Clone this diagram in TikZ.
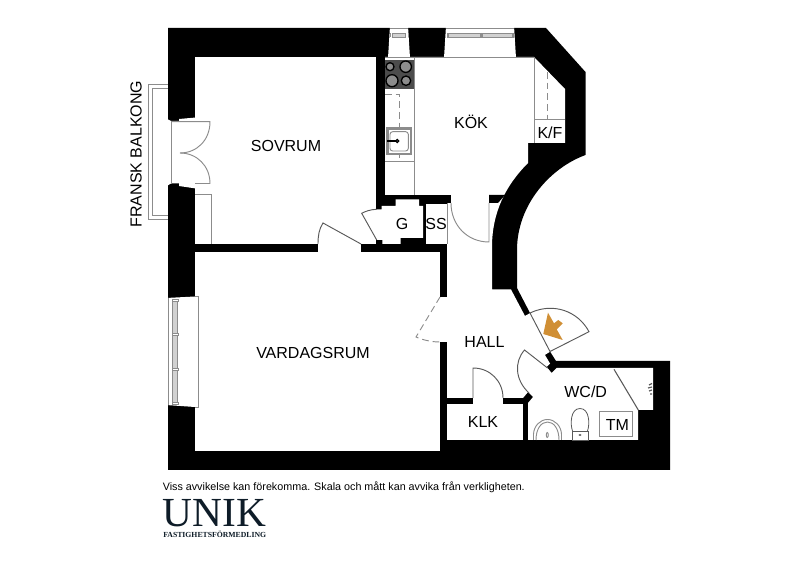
\documentclass[tikz,border=0pt]{standalone}
\usepackage{fontspec}
\setmainfont{Liberation Sans}
\newfontfamily\serifx{Liberation Serif}
\definecolor{ln}{gray}{0.55}
\definecolor{lndark}{gray}{0.35}
\definecolor{bar}{gray}{0.82}
\definecolor{stove}{gray}{0.3}
\definecolor{hob}{gray}{0.55}
\definecolor{arrowor}{HTML}{D08F35}
\definecolor{navy}{HTML}{0E1C28}
\tikzset{
  wall/.style={fill=black,draw=none},
  room/.style={fill=white,draw=none},
  thin line/.style={draw=ln,line width=0.7pt},
  dash line/.style={draw=ln,line width=0.7pt,dash pattern=on 5pt off 3pt},
  label/.style={font=\fontsize{12}{12}\selectfont,inner sep=0pt},
}
\begin{document}
\begin{tikzpicture}[x=0.75pt,y=-0.75pt]
\useasboundingbox (0,0) rectangle (800,566);
\fill[white] (0,0) rectangle (800,566);
% balcony
\draw[thin line] (168,84) -- (148,84) -- (148,219) -- (168,219);
\draw[thin line] (168,88) -- (152,88) -- (152,215) -- (168,215);
% outer mass
\fill[wall] (168,28) -- (546,28) -- (585.5,72) -- (585.5,155)
  .. controls (550,168) and (517,205) .. (517,250)
  -- (517,288) -- (530,313) -- (550,351.5) -- (556,361) -- (670,361) -- (670,470) -- (168,470) -- cycle;
% rooms
\fill[room] (195,57) rectangle (376,244);
\fill[room] (195,252) rectangle (439.5,451);
\fill[room] (385,57) -- (534,57) -- (565,89) -- (565,143) -- (528,143) -- (528,163)
  .. controls (506,185) and (492,212) .. (492,247)
  -- (492,289.5) -- (511,289.5) -- (525,316) -- (545,355) -- (550,363.5) -- (546.7,367) -- (551.7,373) -- (556.5,368)
  -- (653,368) -- (653,410) -- (638,410) -- (638,440) -- (528,440) -- (528,403) -- (533,397) -- (528,392) -- (523,398)
  -- (447,398) -- (447,195) -- (385,195) -- cycle;
\fill[wall] (385,195) rectangle (451,203);
\fill[wall] (489,195) -- (505,195) -- (498,203) -- (489,203) -- cycle;
\fill[wall] (440,252) rectangle (447,297);
% door gaps
\fill[room] (318,243) rectangle (361,253);
\fill[room] (439,297) rectangle (448,342);
\fill[room] (473,397) rectangle (503,405);
\fill[room] (523,317) -- (533,311.5) -- (553,350) -- (543,356) -- cycle;
% closets
\fill[room] (375,209.3) -- (381.7,209.3) -- (381.7,206) -- (395.7,206) -- (395.7,199.3) -- (419,199.3) -- (419,206) -- (423,206)
  -- (423,238) -- (400.7,238) -- (400.7,244) -- (382.3,244) -- (382.3,240) -- (375,240) -- cycle;
\fill[room] (426,204) rectangle (447,244);
\fill[room] (447,404) rectangle (523,440);
% window openings
\fill[room] (166,118.5) -- (171,121) -- (179,121) -- (179,119) -- (196,117.5) -- (196,188.5) -- (179,186) -- (179,183.5) -- (171,183.5) -- (166,186.5) -- cycle;
\fill[room] (166,298) -- (195,296.5) -- (198,296.5) -- (198,407) -- (195,407) -- (166,405) -- cycle;
\fill[room] (390,26) -- (408,26) -- (410,58) -- (388,58) -- cycle;
\fill[room] (446,26) -- (514,26) -- (516,58) -- (444,58) -- cycle;
% French door
\draw[thin line] (171,121) -- (171,184);
\draw[thin line] (171,121.7) -- (210,121.7) .. controls (210,140) and (197,153) .. (180,153);
\draw[thin line] (180,153) .. controls (197,153) and (210,166) .. (210,183.5) -- (195,183.5);
\draw[thin line] (195,194) -- (211,194) -- (211,244);
% living-room window
\draw[thin line] (168,298) -- (168,405);
\draw[thin line] (195,296.5) -- (198,296.5) -- (198,407) -- (195,407);
\fill[bar,draw=ln,line width=0.4pt] (172.7,299) rectangle (177.3,404);
\foreach \yy in {300.7,334,369.3,403} \draw[ln,fill=white,line width=0.4pt] (172.2,\yy-1) rectangle (177.8,\yy+1);
% top windows
\draw[thin line] (390,28) -- (408,28) (446,28) -- (514,28);
\draw[thin line] (385,57) -- (534,57);
\draw[thin line,fill=bar] (392,33.5) rectangle (405,37.5);
\draw[thin line] (390,33.5) -- (390,37.5) (408,33.5) -- (408,37.5);
\draw[thin line,fill=bar] (448,33.7) rectangle (480,37.7);
\draw[thin line,fill=bar] (482,33.7) rectangle (512,37.7);
\draw[thin line] (447,33) -- (447,38) (481,33) -- (481,38) (513,33) -- (513,38);
% kitchen fittings
\fill[stove] (385,60) rectangle (414,89);
\foreach \cx/\cy/\rr in {390/66.7/4,405.7/66.7/5.7,392/80.7/6,406/80.7/4.7}
  \draw[black,fill=hob,line width=1pt] (\cx,\cy) circle[radius=\rr];
\draw[thin line] (414,57) -- (414,195);
\draw[thin line] (385,161) -- (414,161);
\draw[dash line] (385,94) -- (399,94) -- (399,158);
\draw[ln,fill=white,line width=1.6pt] (387.5,128.5) rectangle (411,154);
\draw[ln,line width=0.7pt,rounded corners=2pt] (390,131.7) rectangle (408.3,151);
\draw[black,line width=0.9pt] (387.3,141) -- (397.3,141);
\draw[black,fill=lndark,line width=0.8pt] (397.3,141) circle[radius=1.6];
\draw[thin line] (534.5,57) -- (534.5,143);
\draw[thin line] (534.5,119) -- (565,119);
\draw[dash line] (547,72) -- (547,119);
% inner doors
\draw[thin line] (451,203) .. controls (451,225) and (467,242) .. (489,242) -- (489,203);
\draw[thin line] (447,203) -- (447,244);
\draw[lndark,line width=0.7pt] (361,244) -- (323,223) .. controls (319,229) and (318,236) .. (318,244);
\draw[lndark,line width=0.7pt] (376.7,240) -- (361.7,213.3) .. controls (366,211) and (371,209.5) .. (376.7,209.3);
\draw[lndark,line width=0.7pt] (473,398) -- (473,368) .. controls (490,368) and (503,381) .. (503,398);
\draw[dash line] (440,297) -- (416,337) .. controls (423,340) and (431,342) .. (440,342);
\draw[lndark,line width=0.7pt] (547.5,368) -- (524.5,350) .. controls (514,362) and (515,380) .. (529,393);
% entry door
\draw[lndark,line width=0.7pt] (530,313) -- (550,351.5) -- (589,331.7) .. controls (578,311) and (553,302) .. (530,313);
\fill[arrowor] (548,312.7) -- (543.3,334) -- (562.7,340) -- (556.7,329.3) -- (562.7,323.3) -- (558.3,320) -- (554,323.3) -- cycle;
% WC fittings
\draw[lndark,line width=0.8pt] (614,369.3) -- (638.3,410);
\draw[lndark,line width=0.9pt] (649,385) -- (652,383.5) (648,388) -- (652,387) (649,391) -- (652,390) (650,394) -- (652,394);
\draw[thin line] (533.5,440) -- (533.5,434) .. controls (534,426) and (540,419.5) .. (547.5,419.5) .. controls (555,419.5) and (561,426) .. (561.5,434) -- (561.5,440);
\draw[thin line] (536,440) .. controls (536,429) and (541,422) .. (547.5,422) .. controls (554,422) and (559,429) .. (559,440);
\draw[thin line] (547.3,435) ellipse[x radius=1,y radius=2.5];
\draw[lndark,line width=0.6pt] (572.5,431) .. controls (570,424) and (570.5,408.5) .. (580,408.5) .. controls (589.5,408.5) and (590,424) .. (587.5,431);
\draw[lndark,fill=white,line width=0.6pt] (572.7,431.7) rectangle (588,440);
\fill[lndark] (580,435) ellipse[x radius=1.6,y radius=1];
\draw[thin line] (599,411.7) rectangle (632.7,436);
% labels
\node[label] (sovrum) at (286,146) {SOVRUM};
\node[label] (kok) at (471,122) {KÖK};
\node[label] (kf) at (550,132.5) {K/F};
\node[label] (g) at (402,223.5) {G};
\node[label] (ss) at (436,223.5) {SS};
\node[label] (hall) at (484.5,342) {HALL};
\node[label] (vard) at (313,353) {VARDAGSRUM};
\node[label] (klk) at (483,422) {KLK};
\node[label] (wcd) at (585.7,392) {WC/D};
\node[label] (tm) at (617.5,425) {TM};
\node[label,rotate=90] (balkong) at (136,154) {FRANSK BALKONG};
\node[inner sep=0pt,anchor=west,font=\fontsize{8.07}{10}\selectfont] (note) at (162.5,487) {Viss avvikelse kan förekomma. Skala och mått kan avvika från verkligheten.};
\node[inner sep=0pt,anchor=base west,text depth=0pt,text=navy,font=\serifx\fontsize{31}{31}\selectfont] (unik) at (162.5,526.5) {UNIK};
\node[inner sep=0pt,anchor=base west,text=navy,font=\serifx\bfseries\fontsize{5.8}{6}\selectfont] (fast) at (163,537.5) {FASTIGHETSFÖRMEDLING};
\end{tikzpicture}
\end{document}
